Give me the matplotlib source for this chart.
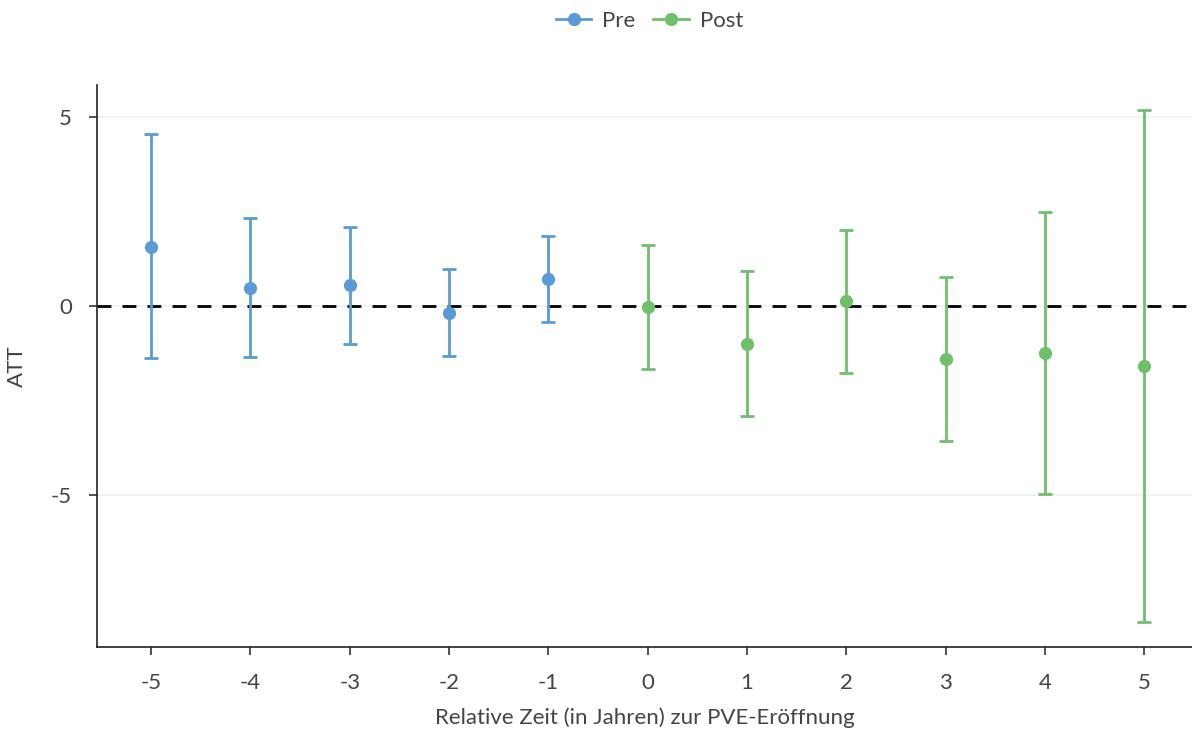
import matplotlib.pyplot as plt
from matplotlib.lines import Line2D
import numpy as np

plt.rcParams['font.family'] = ['Lato', 'DejaVu Sans']
plt.rcParams['axes.unicode_minus'] = False

# relative years and estimates
years_pre = [-5, -4, -3, -2, -1]
att_pre = [1.56, 0.48, 0.56, -0.19, 0.71]
lo_pre = [-1.38, -1.35, -1.0, -1.32, -0.42]
hi_pre = [4.55, 2.33, 2.09, 0.98, 1.85]

years_post = [0, 1, 2, 3, 4, 5]
att_post = [-0.03, -1.0, 0.13, -1.4, -1.24, -1.58]
lo_post = [-1.67, -2.91, -1.77, -3.57, -4.97, -8.36]
hi_post = [1.61, 0.93, 2.01, 0.77, 2.5, 5.2]

blue = '#5b9bd5'
green = '#70bf6b'
txt = '#444444'

fig = plt.figure(figsize=(11.92, 7.34), dpi=100)
ax = fig.add_axes([0.0814, 0.1185, 0.9186, 0.7655])

def draw(x, y, lo, hi, c):
    x = np.array(x); y = np.array(y)
    err = [y - np.array(lo), np.array(hi) - y]
    ax.errorbar(x, y, yerr=err, fmt='o', color=c, ecolor=c, elinewidth=2,
                capsize=5, capthick=2, markersize=8.5, zorder=3)

ax.axhline(0, color='black', lw=2, ls=(0, (5, 4)), zorder=2)
draw(years_pre, att_pre, lo_pre, hi_pre, blue)
draw(years_post, att_post, lo_post, hi_post, green)

ax.set_xlim(-5.545, 5.48)
ax.set_ylim(-9.02, 5.85)
ax.set_xticks(range(-5, 6))
ax.set_yticks([-5, 0, 5])
ax.yaxis.grid(True, color='#f0f0f0', lw=1.2, zorder=0)
ax.set_axisbelow(True)

for s in ['top', 'right']:
    ax.spines[s].set_visible(False)
for s in ['left', 'bottom']:
    ax.spines[s].set_color('#222222')
    ax.spines[s].set_linewidth(1.2)
ax.tick_params(axis='both', colors='#333333', labelcolor=txt, labelsize=16,
               length=6, width=1.2)
ax.tick_params(axis='x', pad=13)
ax.tick_params(axis='y', pad=12)

ax.set_xlabel('Relative Zeit (in Jahren) zur PVE-Eröffnung', fontsize=16,
              color=txt, labelpad=10)
ax.set_ylabel('ATT', fontsize=16, color=txt)
ax.yaxis.set_label_coords(-0.064, 0.5)

handles = [Line2D([], [], color=blue, marker='o', lw=2, markersize=8.5),
           Line2D([], [], color=green, marker='o', lw=2, markersize=8.5)]
fig.legend(handles, ['Pre', 'Post'], loc='upper center', ncol=2,
           bbox_to_anchor=(0.545, 1.012), frameon=False, fontsize=16,
           handlelength=1.6, columnspacing=0.8, handletextpad=0.5,
           labelcolor=txt)

fig.savefig('out.png', dpi=100)
